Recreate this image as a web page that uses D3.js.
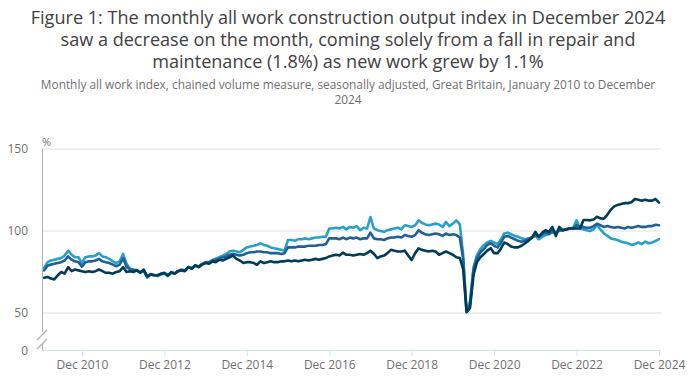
<!DOCTYPE html>
<html>
<head>
<meta charset="utf-8">
<script src="https://cdn.jsdelivr.net/npm/d3@7"></script>
<style>
  body { margin: 0; background: #fff; }
  svg { font-family: "Open Sans", sans-serif; }
</style>
</head>
<body>
<div id="chart"></div>
<script>
// month categories: Jan 2010 .. Dec 2024
var months = d3.timeMonth.range(new Date(2010, 0, 1), new Date(2025, 0, 1));

// repair and maintenance (dark)
var repair = [
  71.5, 72, 71, 70.5, 73, 75, 74, 78, 75.5, 76.5, 76, 75.5,        // 2010
  75, 75.5, 75, 75.5, 76.5, 75.5, 74.5, 74.5, 74, 75, 75.5, 78,    // 2011
  75, 75.5, 75, 76, 74.5, 76.5, 72.5, 73.5, 73, 73, 74, 74.5,      // 2012
  73, 75, 74, 75.5, 76, 75.5, 78, 77, 79, 78, 79.5, 80.5,          // 2013
  80, 81.5, 81, 82.5, 82, 83, 84, 85, 83, 82, 80.5, 81,            // 2014
  81, 80.5, 79.3, 81.5, 80.5, 81, 81.5, 81, 81, 81.5, 81.5, 82,    // 2015
  81.5, 82, 81.5, 82, 82.5, 82, 82.5, 83, 82.5, 83, 83.5, 84.5,    // 2016
  85, 85.5, 85, 86.8, 85.5, 85.5, 85, 85.5, 86, 85.5, 86.5, 88,    // 2017
  86, 83.5, 84.5, 85, 86.5, 88.5, 88, 87.5, 87.5, 88, 85, 82.3,    // 2018
  86.5, 89.4, 88.5, 88, 87.5, 88, 87.5, 85.5, 86.5, 87.5, 86.5, 85.5, // 2019
  84, 83.5, 77, 50.5, 53, 73, 81, 84, 86, 88, 89.5, 86.5,          // 2020
  86.5, 89.5, 93, 92, 90.5, 90, 90, 91, 92.5, 94, 96, 99.5,        // 2021
  96.5, 99, 100.5, 99.5, 102.5, 97, 102.5, 100.5, 101, 101.5, 101.5, 101.5, // 2022
  101.5, 106.7, 106.7, 106.5, 107, 108.7, 107.7, 107.5, 110, 113, 115, 115.9, // 2023
  116.5, 117, 117, 117.5, 119.5, 119, 118.5, 119, 118.5, 118.5, 119.5, 117.3  // 2024
];

// all work (medium)
var allWork = [
  76, 79, 79.5, 80, 80.5, 81, 82, 84.5, 82.5, 81.5, 81, 78.3,      // 2010
  81, 81.5, 81.5, 82, 83, 81.5, 81, 80.5, 79.5, 78.5, 79.5, 83.5,  // 2011
  78, 76.5, 76, 76, 74.8, 76, 72, 73.8, 73.2, 72.8, 73.8, 74.2,    // 2012
  72.8, 74.8, 74, 75.5, 76.2, 75.8, 78, 77.2, 79, 78.2, 79.8, 80.8, // 2013
  80.8, 82, 82.5, 83, 84, 84.5, 85.5, 86, 85.5, 85, 85.5, 86.5,    // 2014
  87, 87, 87.5, 87.5, 87, 87, 86.5, 86.5, 86.5, 86, 86.5, 90,      // 2015
  90, 90, 90.5, 90.5, 90.5, 91, 91, 91, 91.5, 91.5, 92, 95.5,      // 2016
  95.5, 95.5, 95, 96, 95, 96, 95.5, 96, 95, 95.5, 95.5, 99,        // 2017
  95.5, 95, 95, 94.5, 95.5, 96, 96, 96.5, 96, 97.5, 97, 96.5,      // 2018
  97.5, 100.5, 99, 98, 97.5, 98, 98.5, 98, 97, 98.5, 97.5, 98,     // 2019
  97.5, 96, 83, 50.7, 55, 76, 83.5, 87, 89, 91.5, 92.5, 91,        // 2020
  90, 93, 96.5, 97, 96, 95, 94, 93.5, 94, 95, 96, 97.5,            // 2021
  96.5, 98, 99, 98, 100, 98.5, 100.5, 100.5, 101, 101.5, 101.5, 103.5, // 2022
  102.5, 102.5, 102, 102, 103, 104.5, 103.5, 102.5, 103, 102.5, 102, 102.5, // 2023
  102, 101.5, 102.5, 102, 102.5, 103, 102.5, 102.5, 103, 103, 103.8, 103.5 // 2024
];

// new work (light)
var newWork = [
  77.5, 81, 82, 82.5, 83, 83.5, 85, 88, 85.5, 84, 84, 80.5,        // 2010
  84, 84.5, 84.5, 85, 86.5, 84.5, 84, 83, 81.5, 80.5, 81.5, 86,    // 2011
  80, 77, 76.5, 76, 75, 75.5, 71.5, 73.5, 73, 72.5, 73.5, 74,      // 2012
  72.5, 74.5, 74, 75.5, 76.5, 76, 78, 77.5, 79, 78.5, 80, 81,      // 2013
  81, 82.5, 83, 84, 85, 86, 87.5, 88, 87.5, 87, 88.5, 90,          // 2014
  90.5, 91, 91.5, 92.5, 91.5, 91, 90, 89.5, 89, 88.5, 88, 94.5,    // 2015
  94.5, 94, 95, 95, 95.5, 95, 95.5, 96, 96, 96.5, 96.5, 101.5,     // 2016
  101.5, 102, 101.5, 102.5, 101, 102.5, 102, 103, 100.5, 102, 101.5, 108.5, // 2017
  101.5, 100.5, 100, 99.5, 100.5, 101, 101.5, 102, 101, 103.5, 103, 102.5, // 2018
  103.5, 106.5, 105, 104, 103.5, 104, 104.5, 104, 102.5, 105.5, 103, 104.5, // 2019
  106.5, 104, 86, 51, 57, 78, 85, 89, 91.5, 93, 94, 93,            // 2020
  92, 95, 98.5, 99, 98, 97, 96.5, 95.5, 95, 95.5, 96, 97,          // 2021
  95, 96.5, 97.5, 98.5, 99, 99.5, 100, 100.5, 101, 101.5, 102, 106.5, // 2022
  101.5, 101, 100.5, 100, 101, 103.5, 101, 98.5, 97, 95.5, 95, 94.5, // 2023
  93.5, 93, 92.5, 91.5, 92, 93, 92, 93.5, 92.5, 93, 94, 95         // 2024
];

var tickDates = [2010, 2012, 2014, 2016, 2018, 2020, 2022, 2024].map(function (y) { return new Date(y, 11, 1); });
var yTicks = [50, 100, 150];

var titleLines = [
  "Figure 1: The monthly all work construction output index in December 2024",
  "saw a decrease on the month, coming solely from a fall in repair and",
  "maintenance (1.8%) as new work grew by 1.1%"
];
var subtitleLines = [
  "Monthly all work index, chained volume measure, seasonally adjusted, Great Britain, January 2010 to December",
  "2024"
];

var W = 696, H = 385;
var svg = d3.select("#chart").append("svg").attr("width", W).attr("height", H);

// fit a block of lines so that its first line has the given width
function textBlock(lines, y0, lh, width, color) {
  var t = svg.selectAll(null).data(lines).enter().append("text")
    .attr("x", W / 2)
    .attr("y", function (d, i) { return y0 + i * lh; })
    .attr("text-anchor", "middle")
    .attr("font-size", 20)
    .attr("fill", color)
    .text(function (d) { return d; });
  var len = t.node().getComputedTextLength();
  t.attr("font-size", 20 * width / len);
}

textBlock(titleLines, 24, 22, 635, "#414042");
textBlock(subtitleLines, 89, 15, 615, "#707071");

var x = d3.scaleTime()
  .domain([months[0], months[months.length - 1]])
  .range([44.2, 659]);

var y = d3.scaleLinear()
  .domain([27.44, 150])
  .range([350, 149]);

var left = 42, right = 661;

// gridlines
svg.append("g").selectAll("line").data(yTicks).enter().append("line")
  .attr("x1", left).attr("x2", right)
  .attr("y1", function (d) { return y(d); })
  .attr("y2", function (d) { return y(d); })
  .attr("stroke", "#e2e2e3")
  .attr("stroke-width", 1);

// y labels
svg.append("g").selectAll("text").data(yTicks).enter().append("text")
  .attr("x", 28).attr("y", function (d) { return y(d) + 4; })
  .attr("text-anchor", "end")
  .attr("font-size", 12)
  .attr("fill", "#707071")
  .text(function (d) { return d; });

svg.append("text")
  .attr("x", 28).attr("y", 355)
  .attr("text-anchor", "end")
  .attr("font-size", 12)
  .attr("fill", "#707071")
  .text("0");

svg.append("text")
  .attr("x", 42).attr("y", 146)
  .attr("font-size", 11)
  .attr("fill", "#707071")
  .text("%");

// y axis line with break
svg.append("line")
  .attr("x1", left + 0.5).attr("x2", left + 0.5)
  .attr("y1", 149).attr("y2", 332)
  .attr("stroke", "#b3b3b3");
svg.append("line")
  .attr("x1", left + 0.5).attr("x2", left + 0.5)
  .attr("y1", 344).attr("y2", 350)
  .attr("stroke", "#b3b3b3");
[0, 9].forEach(function (o) {
  svg.append("line")
    .attr("x1", 37).attr("y1", 340 + o)
    .attr("x2", 47).attr("y2", 330 + o)
    .attr("stroke", "#b3b3b3")
    .attr("stroke-width", 1.2);
});

// x axis
var xAxis = svg.append("g")
  .attr("transform", "translate(0,350)")
  .call(d3.axisBottom(x).tickValues(tickDates).tickSize(6)
    .tickFormat(d3.timeFormat("Dec %Y")));
xAxis.select(".domain").remove();
xAxis.append("line").attr("x1", left).attr("x2", right).attr("y1", 0.5).attr("y2", 0.5)
  .attr("stroke", "#d0e3f3");
xAxis.selectAll(".tick line").attr("stroke", "#d0e3f3");
xAxis.selectAll(".tick text")
  .attr("font-family", "Open Sans, sans-serif")
  .attr("font-size", 12)
  .attr("fill", "#707071")
  .attr("y", 9)
  .attr("dy", "0.85em");

// lines
var line = d3.line()
  .x(function (d, i) { return x(months[i]); })
  .y(function (d) { return y(d); });

var series = [
  { values: newWork, color: "#27a0cc" },
  { values: allWork, color: "#206095" },
  { values: repair, color: "#003c57" }
];

svg.append("g").selectAll("path").data(series).enter().append("path")
  .attr("d", function (d) { return line(d.values); })
  .attr("fill", "none")
  .attr("stroke", function (d) { return d.color; })
  .attr("stroke-width", 2.6)
  .attr("stroke-linejoin", "round")
  .attr("stroke-linecap", "round");
</script>
</body>
</html>
